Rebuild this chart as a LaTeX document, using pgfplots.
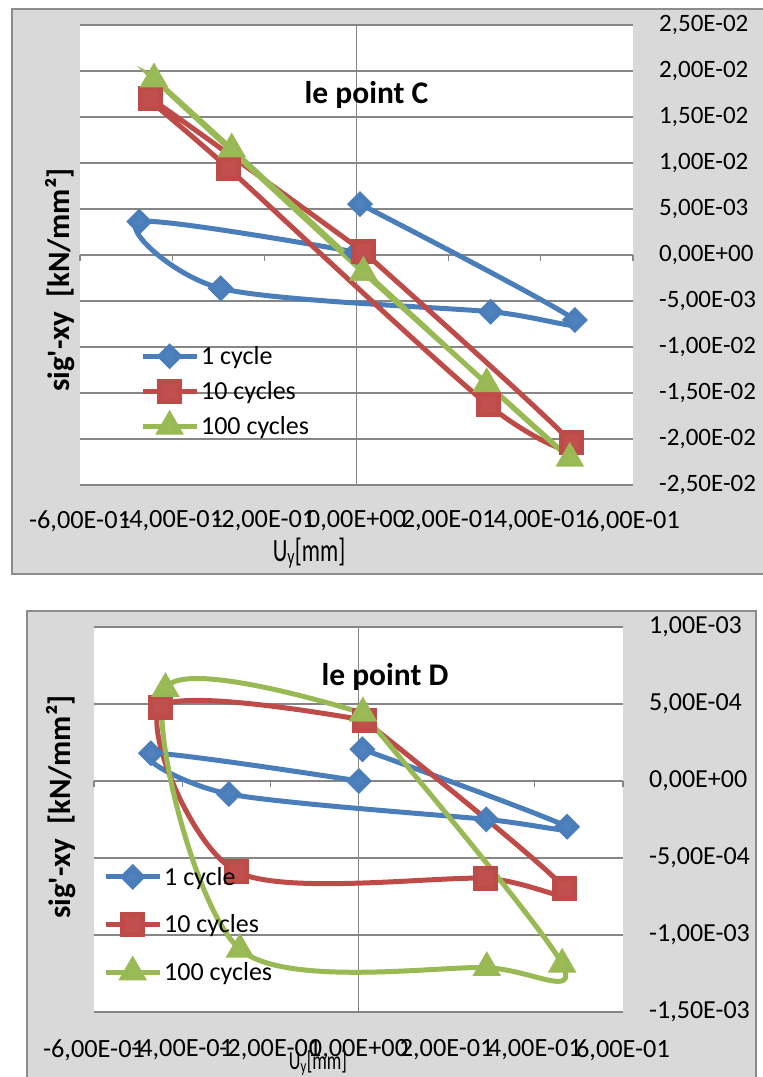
\documentclass[border=0pt]{standalone}
\usepackage{pgfplots}
\pgfplotsset{compat=1.18}
\usetikzlibrary{calc,backgrounds}
\usepackage{graphicx}
\usepackage{fontspec}
\setmainfont{Carlito}
\definecolor{bgc}{HTML}{D9D9D9}
\definecolor{frc}{HTML}{8C8C8C}
\definecolor{grc}{HTML}{868686}
\definecolor{bl}{HTML}{4A7EBB}
\definecolor{blm}{HTML}{4F81BD}
\definecolor{rd}{HTML}{BE4B48}
\definecolor{rdm}{HTML}{C0504D}
\definecolor{gr}{HTML}{98B954}
\definecolor{grm}{HTML}{9BBB59}
\pgfplotsset{
  sA/.style={color=bl, line width=5pt, smooth, tension=0.5, mark=square*, mark size=6.7pt, mark options={rotate=45, fill=blm, draw=none, solid}},
  sB/.style={color=rd, line width=5pt, smooth, tension=0.5, mark=square*, mark size=10pt, mark options={fill=rdm, draw=none, solid}},
  sC/.style={color=gr, line width=5pt, smooth, tension=0.5, mark=triangle*, mark size=11.5pt, mark options={fill=grm, draw=none, solid}},
  bgaxis/.style={scale only axis, anchor=south west, axis lines=middle,
    scaled ticks=false,
    axis line style={-, draw=grc, line width=1.3pt},
    every inner x axis line/.append style={-}, every inner y axis line/.append style={-},
    axis background/.style={fill=white}, ymajorgrids,
    grid style={draw=grc, line width=1.3pt},
    xticklabels={}, yticklabels={}, major tick length=6pt,
    tick style={draw=grc, line width=1.3pt}, tick align=outside,
    xtick={-0.6,-0.4,-0.2,0,0.2,0.4,0.6}, xmin=-0.6, xmax=0.6},
  fgaxis/.style={scale only axis, anchor=south west, axis line style={draw=none},
    scaled ticks=false,
    major tick length=0pt, yticklabel pos=right,
    xmin=-0.6, xmax=0.6,
    xtick={-0.6,-0.4,-0.2,0,0.2,0.4,0.6},
    xticklabels={{-6,00E-01},{-4,00E-01},{-2,00E-01},{0,00E+00},{2,00E-01},{4,00E-01},{6,00E-01}},
    legend cell align=left,
    legend image code/.code={\draw[mark repeat=2,mark phase=2] plot coordinates {(0pt,0pt) (27pt,0pt) (54pt,0pt)};}},
}
\begin{document}
\begin{tikzpicture}
% ---------- top chart ----------
\begin{axis}[bgaxis, name=topbg, at={(0pt,0pt)}, width=553pt, height=460pt,
  ymin=-0.025, ymax=0.025,
  ytick={-0.025,-0.02,-0.015,-0.01,-0.005,0,0.005,0.01,0.015,0.02,0.025}]
\end{axis}
\coordinate (T) at (topbg.south west);
\begin{axis}[fgaxis, at={(T)}, width=553pt, height=460pt,
  ymin=-0.025, ymax=0.025,
  ytick={-0.025,-0.02,-0.015,-0.01,-0.005,0,0.005,0.01,0.015,0.02,0.025},
  yticklabels={{-2,50E-02},{-2,00E-02},{-1,50E-02},{-1,00E-02},{-5,00E-03},{0,00E+00},{5,00E-03},{1,00E-02},{1,50E-02},{2,00E-02},{2,50E-02}},
  xticklabel style={font=\fontsize{26.3}{30}\selectfont, anchor=center, inner sep=0pt, yshift=-36pt},
  yticklabel style={font=\fontsize{25}{30}\selectfont, anchor=west, inner sep=0pt, xshift=26pt},
  legend style={draw=none, fill=none, at={(axis cs:-0.47,-0.0097)}, anchor=north west,
    font=\fontsize{26}{30}\selectfont, row sep=11.5pt, inner sep=0pt}]
\addplot[sA] coordinates {(0.0076,0.00554) (0.474,-0.00707) (0.291,-0.00616) (-0.2947,-0.00362) (-0.4713,0.00362) (0.0,0.0003)};
\addlegendentry{1 cycle}
\addplot[sB] coordinates {(0.0148,0.00036) (0.4655,-0.02036) (0.286,-0.0163) (-0.278,0.00942) (-0.448,0.01703) (0.0148,0.00036)};
\addlegendentry{10 cycles}
\addplot[sC] coordinates {(0.015,-0.0019) (0.463,-0.0221) (0.2825,-0.0140) (-0.2708,0.01152) (-0.4395,0.01913) (0.015,-0.0019)};
\addlegendentry{100 cycles}
\end{axis}

% ---------- bottom chart ----------
\begin{axis}[bgaxis, name=botbg, at={($(T)+(14pt,-527pt)$)}, width=529pt, height=385pt,
  ymin=-0.0015, ymax=0.001,
  ytick={-0.0015,-0.001,-0.0005,0,0.0005,0.001}]
\end{axis}
\coordinate (B) at (botbg.south west);
\begin{axis}[fgaxis, at={(B)}, width=529pt, height=385pt,
  ymin=-0.0015, ymax=0.001,
  ytick={-0.0015,-0.001,-0.0005,0,0.0005,0.001},
  yticklabels={{-1,50E-03},{-1,00E-03},{-5,00E-04},{0,00E+00},{5,00E-04},{1,00E-03}},
  xticklabel style={font=\fontsize{26.3}{30}\selectfont, anchor=center, inner sep=0pt, yshift=-38pt},
  yticklabel style={font=\fontsize{26}{30}\selectfont, anchor=west, inner sep=0pt, xshift=26pt},
  legend style={draw=none, fill=none, at={(axis cs:-0.5796,-0.000545)}, anchor=north west,
    font=\fontsize{26}{30}\selectfont, row sep=24pt, inner sep=0pt}]
\addplot[sA] coordinates {(0.009,0.000206) (0.473,-0.000297) (0.29,-0.000249) (-0.294,-0.000084) (-0.471,0.00018) (0.001,0.0)};
\addlegendentry{1 cycle}
\addplot[sB] coordinates {(0.013,0.000395) (0.467,-0.000695) (0.287,-0.000632) (-0.276,-0.000589) (-0.449,0.000479) (0.013,0.000395)};
\addlegendentry{10 cycles}
\addplot[sC] coordinates {(0.010,0.00044) (0.462,-0.00119) (0.291,-0.001212) (-0.269,-0.001093) (-0.438,0.0006) (0.010,0.00044)};
\addlegendentry{100 cycles}
\end{axis}

% ---------- frames (behind) ----------
\begin{scope}[on background layer]
\fill[bgc] ($(T)+(-68pt,-89pt)$) rectangle ($(T)+(690pt,476pt)$);
\draw[frc, line width=1.5pt] ($(T)+(690pt,476pt)$) -- ($(T)+(-68pt,476pt)$) -- ($(T)+(-68pt,-89pt)$) -- ($(T)+(690pt,-89pt)$);
\fill[bgc] ($(B)+(-67pt,-75pt)$) rectangle ($(B)+(662pt,401pt)$);
\draw[frc, line width=1.5pt] ($(B)+(-67pt,-75pt)$) -- ($(B)+(-67pt,401pt)$) -- ($(B)+(662pt,401pt)$) -- ($(B)+(662pt,-75pt)$);
\end{scope}

% ---------- texts ----------
\node[font=\bfseries\fontsize{31.5}{36}\selectfont, anchor=base] at ($(T)+(286.5pt,381.7pt)$) {le point C};
\node[font=\bfseries\fontsize{31}{36}\selectfont, rotate=90] at ($(T)+(-20.4pt,205pt)$) {sig\textquotesingle-xy\ \ [kN/mm²]};
\node at ($(T)+(229pt,-68pt)$) {\scalebox{0.7}[1]{\fontsize{32.5}{36}\selectfont U\textsubscript{y}[mm]}};
\node[font=\bfseries\fontsize{31.5}{36}\selectfont, anchor=base] at ($(B)+(291pt,327pt)$) {le point D};
\node[font=\bfseries\fontsize{31}{36}\selectfont, rotate=90] at ($(B)+(-33pt,205pt)$) {sig\textquotesingle-xy\ \ [kN/mm²]};
\node at ($(B)+(224pt,-51pt)$) {\scalebox{0.7}[1]{\fontsize{26}{30}\selectfont U\textsubscript{y}[mm]}};

\pgfresetboundingbox
\path[use as bounding box] ($(T)+(-80pt,-592pt)$) rectangle ($(T)+(683pt,485pt)$);
\end{tikzpicture}
\end{document}
